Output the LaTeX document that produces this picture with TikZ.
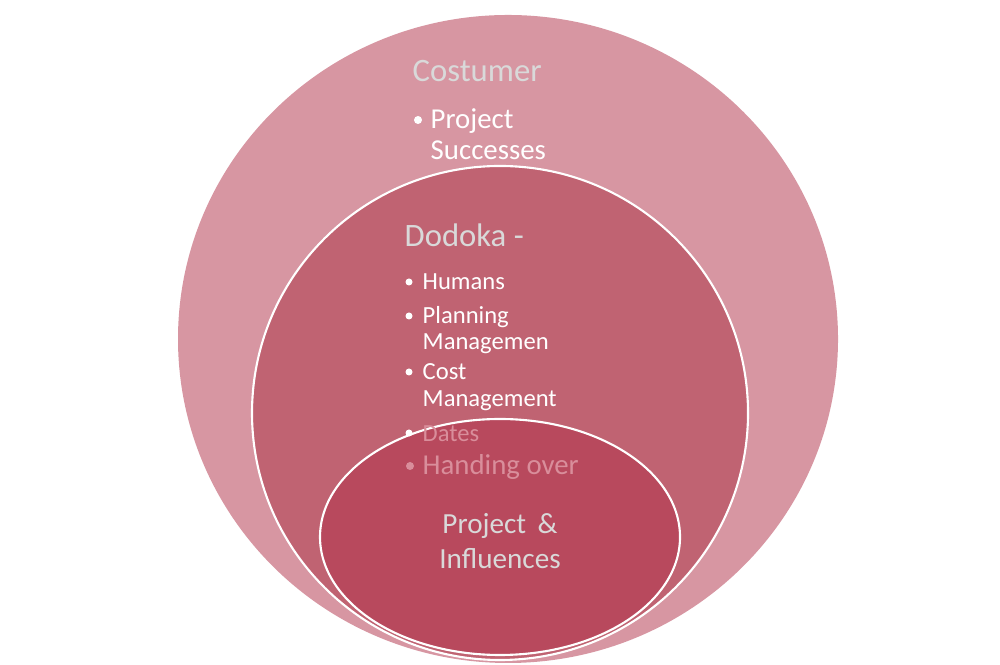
\documentclass[tikz,border=0pt]{standalone}
\usepackage{fontspec}
\setmainfont{Carlito}
\definecolor{outerpink}{HTML}{D796A2}
\definecolor{midpink}{HTML}{C06372}
\definecolor{innerpink}{HTML}{B8495D}
\definecolor{titlegray}{HTML}{D9D9D9}
\definecolor{fadedpink}{HTML}{D98E9B}
\begin{document}
\begin{tikzpicture}[
  title/.style={anchor=base west, inner sep=0pt, text=titlegray, font=\fontsize{9.3}{11}\selectfont},
  item/.style={anchor=base west, inner sep=0pt, text=white, font=\fontsize{7}{8}\selectfont},
  bigitem/.style={item, font=\fontsize{8.2}{10}\selectfont},
  dot/.style={circle, fill=white, inner sep=0pt, minimum size=0.07cm}
]
\useasboundingbox (0,0) rectangle (10,6.65);
% Costumer
\fill[outerpink] (5.08,3.26) ellipse[x radius=3.30, y radius=3.24];
\node[title] (cust) at (4.12,5.83) {Costumer};
\node[dot, minimum size=0.08cm] (custb) at (4.18,5.45) {};
\node[bigitem] (succ1) at (4.30,5.36) {Project};
\node[bigitem] (succ2) at (4.30,5.05) {Successes};
% Dodoka
\draw[white, line width=0.6pt, fill=midpink] (5.00,2.52) ellipse[x radius=2.48, y radius=2.47];
\node[title] (dod) at (4.04,4.18) {Dodoka -};
\node[dot] (humb) at (4.09,3.83) {};
\node[item] (hum) at (4.22,3.75) {Humans};
\node[dot] (planb) at (4.09,3.49) {};
\node[item] (plan1) at (4.22,3.41) {Planning};
\node[item] (plan2) at (4.22,3.15) {Managemen};
\node[dot] (costb) at (4.09,2.93) {};
\node[item] (cost1) at (4.22,2.85) {Cost};
\node[item] (cost2) at (4.22,2.58) {Management};
% Project & Influences
\draw[white, line width=0.6pt, fill=innerpink] (5.00,1.28) ellipse[x radius=1.80, y radius=1.18];
\node[dot] (dateb) at (4.09,2.32) {};
\node[item, text=fadedpink] (date) at (4.22,2.23) {Dates};
\node[dot, fill=fadedpink, minimum size=0.08cm] (handb) at (4.10,1.99) {};
\node[bigitem, text=fadedpink] (hand) at (4.22,1.90) {Handing over};
\node[title, anchor=base, font=\fontsize{8.3}{10}\selectfont] (proj) at (5.00,1.31) {Project \,\&};
\node[title, anchor=base, font=\fontsize{8.3}{10}\selectfont] (infl) at (5.00,0.96) {Influences};
\end{tikzpicture}
\end{document}
